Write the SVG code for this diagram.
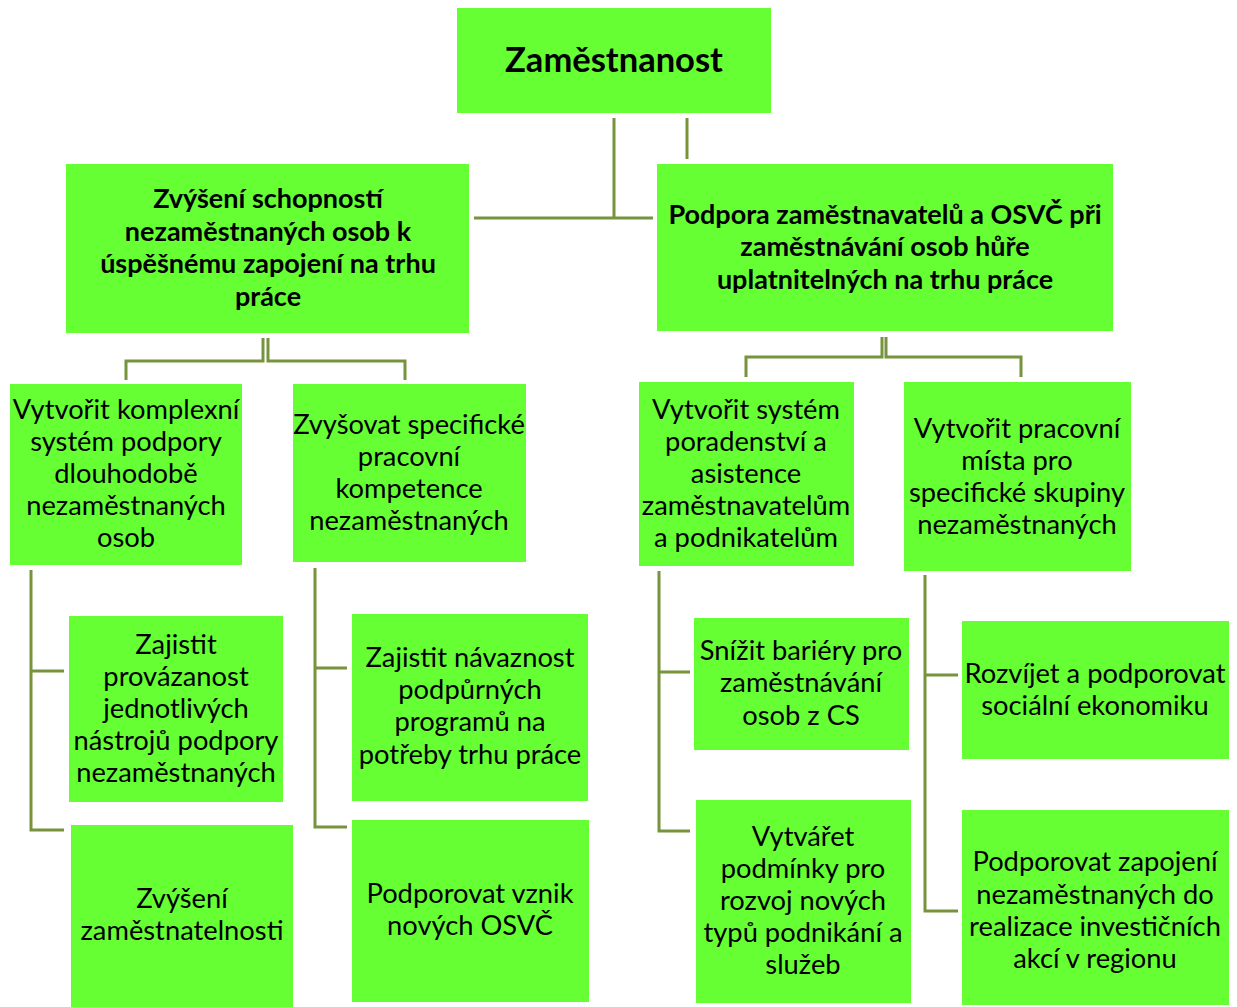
<svg xmlns="http://www.w3.org/2000/svg" width="1237" height="1007" viewBox="0 0 1237 1007">
<style>
.box{fill:#66FF33;}
.t{font-family:Lato,"Open Sans","Liberation Sans",sans-serif;font-size:27.3px;fill:#000;text-anchor:middle;}
.b{font-weight:bold;font-size:27px;}
.r{font-weight:bold;font-size:34.5px;}
.c{fill:none;stroke:#77933C;stroke-width:3;}
</style>
<rect width="1237" height="1007" fill="#fff"/>
<g id="connectors">
<path class="c" d="M614,118 V218 M474,218 H653 M687,118 V159"/>
<path class="c" d="M263,338 V361 H126 V380 M268,338 V361 H405 V380"/>
<path class="c" d="M882,337 V357 H746 V377 M886,337 V357 H1021 V377"/>
<path class="c" d="M31,570 V830 H64 M31,671 H64"/>
<path class="c" d="M315,568 V827 H347 M315,668 H347"/>
<path class="c" d="M659,571 V831 H690 M659,672 H690"/>
<path class="c" d="M925,575 V911 H958 M925,675 H958"/>
</g>
<g id="root"><rect class="box" x="457" y="8" width="314" height="105"/><text class="t r" x="614" y="72">Zaměstnanost</text></g>
<g id="n1"><rect class="box" x="66" y="164" width="403" height="169"/>
<text class="t b" x="268" y="208">Zvýšení schopností</text><text class="t b" x="268" y="241">nezaměstnaných osob k</text><text class="t b" x="268" y="273">úspěšnému zapojení na trhu</text><text class="t b" x="268" y="306">práce</text></g>
<g id="n2"><rect class="box" x="657" y="164" width="456" height="167"/>
<text class="t b" x="885" y="224">Podpora zaměstnavatelů a OSVČ při</text><text class="t b" x="885" y="256">zaměstnávání osob hůře</text><text class="t b" x="885" y="289">uplatnitelných na trhu práce</text></g>
<g id="a"><rect class="box" x="10" y="384" width="232" height="181"/>
<text class="t" x="126" y="419">Vytvořit komplexní</text><text class="t" x="126" y="451">systém podpory</text><text class="t" x="126" y="483">dlouhodobě</text><text class="t" x="126" y="515">nezaměstnaných</text><text class="t" x="126" y="547">osob</text></g>
<g id="b"><rect class="box" x="293" y="384" width="233" height="178"/>
<text class="t" x="409" y="434">Zvyšovat specifické</text><text class="t" x="409" y="466">pracovní</text><text class="t" x="409" y="498">kompetence</text><text class="t" x="409" y="530">nezaměstnaných</text></g>
<g id="c"><rect class="box" x="639" y="382" width="215" height="184"/>
<text class="t" x="746" y="419">Vytvořit systém</text><text class="t" x="746" y="451">poradenství a</text><text class="t" x="746" y="483">asistence</text><text class="t" x="746" y="515">zaměstnavatelům</text><text class="t" x="746" y="547">a podnikatelům</text></g>
<g id="d"><rect class="box" x="904" y="382" width="227" height="189"/>
<text class="t" x="1017" y="438">Vytvořit pracovní</text><text class="t" x="1017" y="470">místa pro</text><text class="t" x="1017" y="502">specifické skupiny</text><text class="t" x="1017" y="534">nezaměstnaných</text></g>
<g id="a1"><rect class="box" x="69" y="616" width="214" height="186"/>
<text class="t" x="176" y="654">Zajistit</text><text class="t" x="176" y="686">provázanost</text><text class="t" x="176" y="718">jednotlivých</text><text class="t" x="176" y="750">nástrojů podpory</text><text class="t" x="176" y="782">nezaměstnaných</text></g>
<g id="a2"><rect class="box" x="71" y="825" width="222" height="182"/>
<text class="t" x="182" y="908">Zvýšení</text><text class="t" x="182" y="940">zaměstnatelnosti</text></g>
<g id="b1"><rect class="box" x="352" y="614" width="236" height="187"/>
<text class="t" x="470" y="667">Zajistit návaznost</text><text class="t" x="470" y="699">podpůrných</text><text class="t" x="470" y="731">programů na</text><text class="t" x="470" y="764">potřeby trhu práce</text></g>
<g id="b2"><rect class="box" x="352" y="820" width="237" height="182"/>
<text class="t" x="470" y="903">Podporovat vznik</text><text class="t" x="470" y="935">nových OSVČ</text></g>
<g id="c1"><rect class="box" x="694" y="618" width="215" height="132"/>
<text class="t" x="801" y="660">Snížit bariéry pro</text><text class="t" x="801" y="692">zaměstnávání</text><text class="t" x="801" y="725">osob z CS</text></g>
<g id="c2"><rect class="box" x="696" y="800" width="215" height="203"/>
<text class="t" x="803" y="846">Vytvářet</text><text class="t" x="803" y="878">podmínky pro</text><text class="t" x="803" y="910">rozvoj nových</text><text class="t" x="803" y="942">typů podnikání a</text><text class="t" x="803" y="974">služeb</text></g>
<g id="d1"><rect class="box" x="962" y="621" width="267" height="138"/>
<text class="t" x="1095" y="683">Rozvíjet a podporovat</text><text class="t" x="1095" y="715">sociální ekonomiku</text></g>
<g id="d2"><rect class="box" x="962" y="810" width="267" height="195"/>
<text class="t" x="1095" y="871">Podporovat zapojení</text><text class="t" x="1095" y="904">nezaměstnaných do</text><text class="t" x="1095" y="936">realizace investičních</text><text class="t" x="1095" y="968">akcí v regionu</text></g>
</svg>
